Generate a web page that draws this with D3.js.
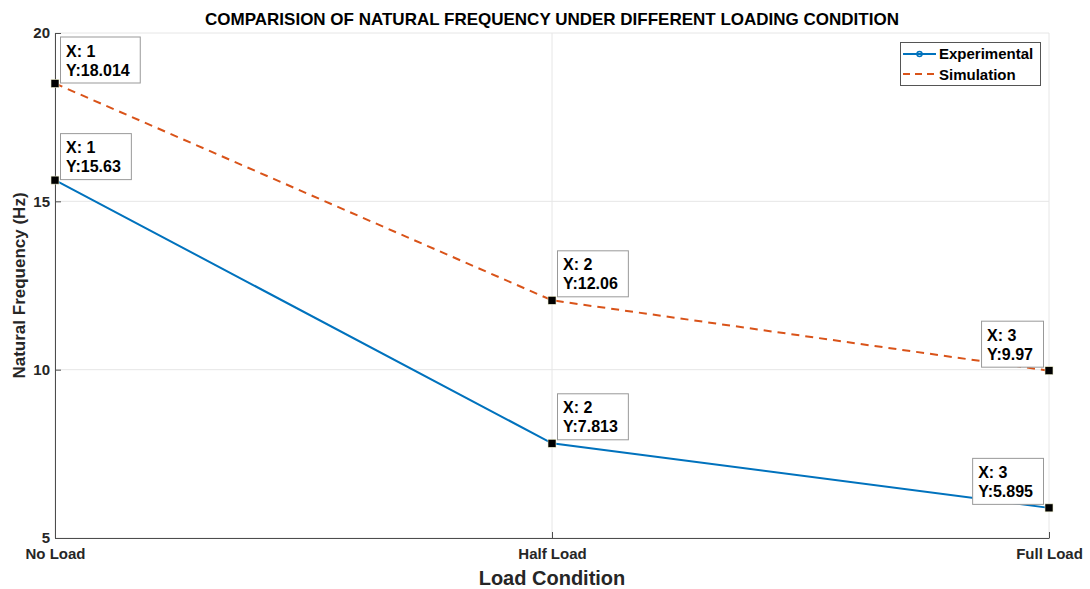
<!DOCTYPE html>
<html>
<head>
<meta charset="utf-8">
<script src="https://cdn.jsdelivr.net/npm/d3@7"></script>
<style>
body { margin:0; background:#fff; }
text { font-family: "Liberation Sans", Arial, sans-serif; font-weight:bold; }
</style>
</head>
<body>
<svg id="chart"></svg>
<script>
var w = 1090
var h = 589

// data
var categories = ["No Load", "Half Load", "Full Load"]
var experimental = [15.63, 7.813, 5.895]
var simulation = [18.5, 12.06, 9.97]
var expTips = ["15.63", "7.813", "5.895"]
var simTips = ["18.014", "12.06", "9.97"]
var yTicks = [5, 10, 15, 20]

var margins = {left:55, right:41, top:33, bottom:51}
var graphDim = {width: w-margins.left-margins.right, height: h-margins.top-margins.bottom}

var svg = d3.select("#chart").attr("width", w).attr("height", h)

var xscale = d3.scalePoint()
    .domain(categories)
    .range([margins.left, margins.left+graphDim.width])

var yscale = d3.scaleLinear()
    .domain([5,20])
    .range([margins.top+graphDim.height, margins.top])

// grid
var grid = svg.append("g")
grid.selectAll(".gy")
    .data(yTicks)
    .enter().append("line")
    .attr("x1", margins.left).attr("x2", margins.left+graphDim.width)
    .attr("y1", function(d){return yscale(d)}).attr("y2", function(d){return yscale(d)})
    .attr("stroke", "#e6e6e6").attr("stroke-width", 1)
grid.selectAll(".gx")
    .data(categories)
    .enter().append("line")
    .attr("x1", function(d){return xscale(d)}).attr("x2", function(d){return xscale(d)})
    .attr("y1", margins.top).attr("y2", margins.top+graphDim.height)
    .attr("stroke", "#e6e6e6").attr("stroke-width", 1)

// axes
var yAxis = d3.axisLeft(yscale).tickValues(yTicks).tickSizeInner(-6).tickSizeOuter(0).tickPadding(5)
svg.append("g")
    .attr("transform", "translate("+margins.left+",0)")
    .call(yAxis)
    .call(function(g){
        g.select(".domain").attr("stroke", "#4d4d4d")
        g.selectAll(".tick line").attr("stroke", "#4d4d4d")
        g.selectAll(".tick text").attr("fill", "#262626").style("font-size", "15px").attr("x", -5)
    })

var xAxis = d3.axisBottom(xscale).tickSizeInner(-6).tickSizeOuter(0).tickPadding(10)
svg.append("g")
    .attr("transform", "translate(0,"+(margins.top+graphDim.height)+")")
    .call(xAxis)
    .call(function(g){
        g.select(".domain").attr("stroke", "#4d4d4d")
        g.selectAll(".tick line").attr("stroke", "#4d4d4d")
        g.selectAll(".tick text").attr("fill", "#262626").style("font-size", "15px").attr("y", 10)
    })

// lines
var line = function(vals){
    return d3.line()
        .x(function(d,i){return xscale(categories[i])})
        .y(function(d){return yscale(d)})(vals)
}
svg.append("path")
    .attr("d", line(experimental))
    .attr("fill", "none").attr("stroke", "#0072BD").attr("stroke-width", 2)
svg.append("path")
    .attr("d", line(simulation))
    .attr("fill", "none").attr("stroke", "#D95319").attr("stroke-width", 2)
    .attr("stroke-dasharray", "8,6")

// datatips
var drawTip = function(vals, tips, i)
{
    var px = xscale(categories[i])
    var py = yscale(vals[i])
    var g = svg.append("g")
    var rect = g.append("rect")
        .attr("fill", "white").attr("stroke", "#999").attr("stroke-width", 1)
    var t1 = g.append("text").text("X: "+(i+1)).style("font-size", "16px").attr("fill", "#000")
    var t2 = g.append("text").text("Y:"+tips[i]).style("font-size", "16px").attr("fill", "#000")
    var tw = Math.max(t1.node().getComputedTextLength(), t2.node().getComputedTextLength())
    var bw = tw + 16
    var bh = 46
    var left = i == 2 ? px - 6 - bw : px + 5
    var bottom = i == 0 ? py - 1 : py - 4
    rect.attr("x", left+0.5).attr("y", bottom-bh+0.5).attr("width", bw).attr("height", bh)
    t1.attr("x", left+6).attr("y", bottom-bh+20)
    t2.attr("x", left+6).attr("y", bottom-bh+39)
    svg.append("rect")
        .attr("x", px-4).attr("y", py-4).attr("width", 8).attr("height", 8)
        .attr("fill", "#000").attr("stroke", "#eeeecc").attr("stroke-width", 0.6)
}
for (var i = 0; i < 3; i++) {
    drawTip(simulation, simTips, i)
    drawTip(experimental, expTips, i)
}

// legend
var leg = svg.append("g")
leg.append("rect")
    .attr("x", 900.5).attr("y", 42.5).attr("width", 140).attr("height", 43)
    .attr("fill", "white").attr("stroke", "#555").attr("stroke-width", 1)
leg.append("line")
    .attr("x1", 903).attr("x2", 936).attr("y1", 54).attr("y2", 54)
    .attr("stroke", "#0072BD").attr("stroke-width", 2)
leg.append("circle")
    .attr("cx", 919.5).attr("cy", 54).attr("r", 2.5)
    .attr("fill", "none").attr("stroke", "#0072BD").attr("stroke-width", 1.5)
leg.append("line")
    .attr("x1", 903).attr("x2", 936).attr("y1", 74).attr("y2", 74)
    .attr("stroke", "#D95319").attr("stroke-width", 2).attr("stroke-dasharray", "7,5")
leg.append("text").text("Experimental").attr("x", 939).attr("y", 59).style("font-size", "15px").attr("fill", "#000")
leg.append("text").text("Simulation").attr("x", 939).attr("y", 80).style("font-size", "15px").attr("fill", "#000")

// labels
svg.append("text")
    .text("COMPARISION OF NATURAL FREQUENCY UNDER DIFFERENT LOADING CONDITION")
    .attr("text-anchor", "middle")
    .attr("x", margins.left+graphDim.width/2)
    .attr("y", 25)
    .style("font-size", "17px")
    .attr("fill", "#000")

svg.append("text")
    .text("Load Condition")
    .attr("text-anchor", "middle")
    .attr("x", margins.left+graphDim.width/2)
    .attr("y", 585)
    .style("font-size", "20px")
    .attr("fill", "#262626")

svg.append("text")
    .attr("transform", "translate(25,"+(margins.top+graphDim.height/2)+") rotate(-90)")
    .text("Natural Frequency (Hz)")
    .attr("text-anchor", "middle")
    .style("font-size", "17px")
    .attr("fill", "#262626")
</script>
</body>
</html>
